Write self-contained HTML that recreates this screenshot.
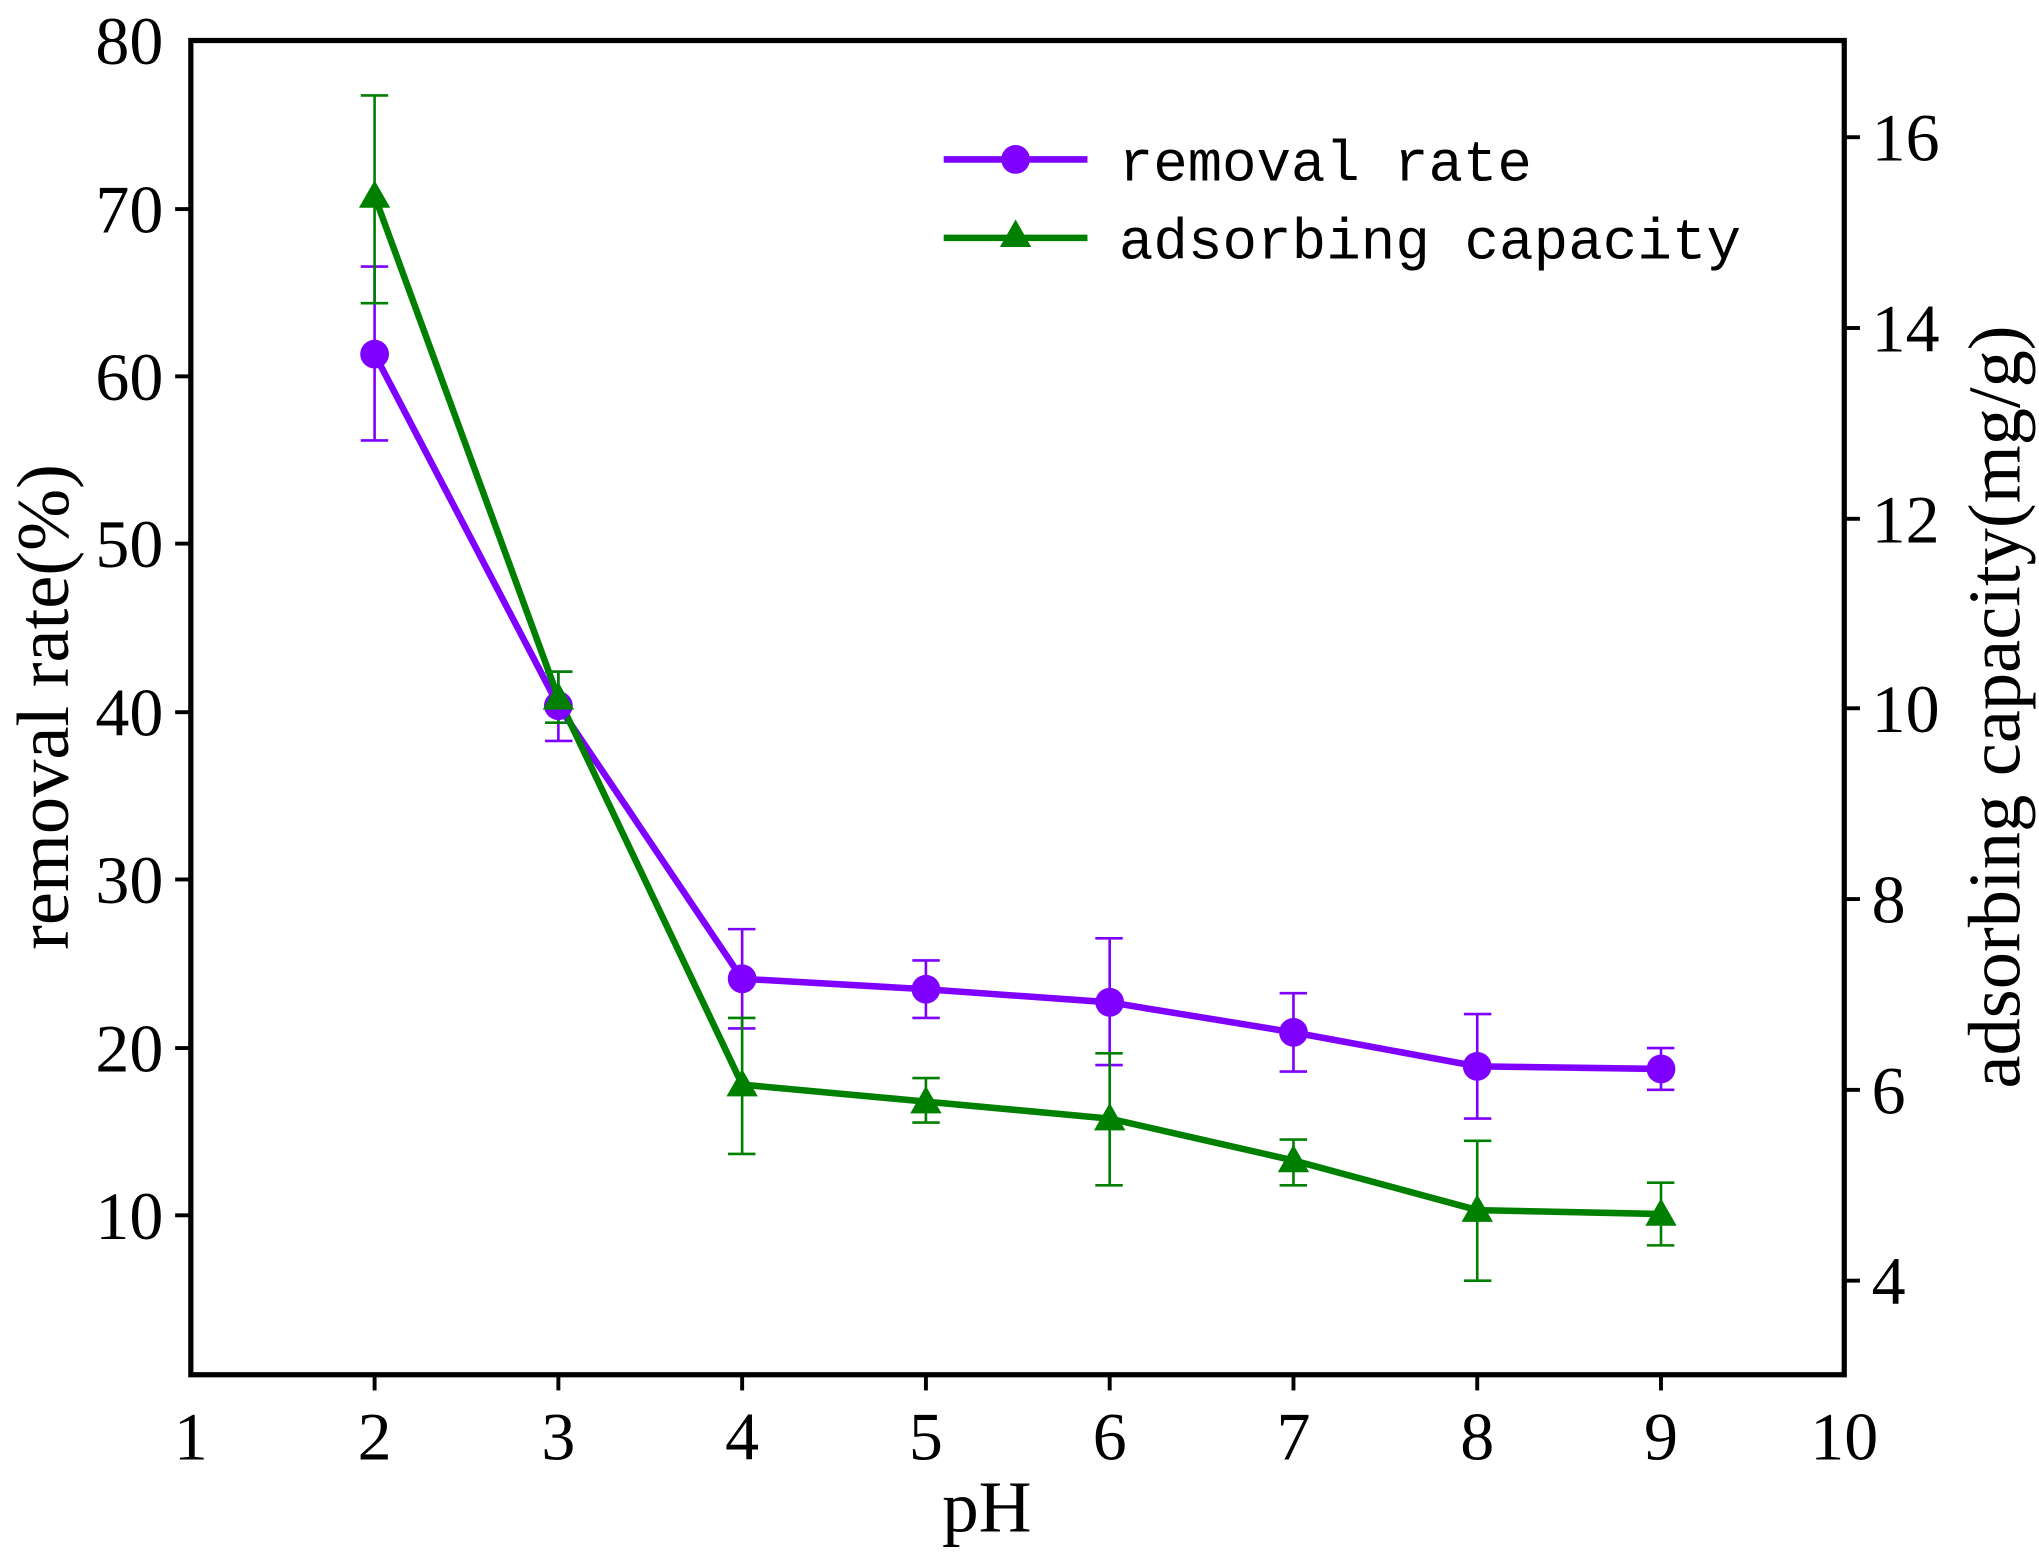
<!DOCTYPE html>
<html><head><meta charset="utf-8"><style>html,body{margin:0;padding:0;background:#fff}svg{display:block}</style></head><body>
<svg width="2039" height="1559" viewBox="0 0 1560 1193" preserveAspectRatio="none" xmlns="http://www.w3.org/2000/svg">
<g font-family="Liberation Serif, serif" font-size="52" fill="#000">
<rect x="146" y="31" width="1265" height="1021" fill="none" stroke="#000" stroke-width="4"/>
<g stroke="#000" stroke-width="3">
<line x1="286.6" y1="1052" x2="286.6" y2="1064"/><line x1="427.2" y1="1052" x2="427.2" y2="1064"/><line x1="567.8" y1="1052" x2="567.8" y2="1064"/><line x1="708.4" y1="1052" x2="708.4" y2="1064"/><line x1="849" y1="1052" x2="849" y2="1064"/><line x1="989.6" y1="1052" x2="989.6" y2="1064"/><line x1="1130.2" y1="1052" x2="1130.2" y2="1064"/><line x1="1270.8" y1="1052" x2="1270.8" y2="1064"/>
<line x1="134" y1="160" x2="146" y2="160"/><line x1="134" y1="288" x2="146" y2="288"/><line x1="134" y1="416" x2="146" y2="416"/><line x1="134" y1="545" x2="146" y2="545"/><line x1="134" y1="673" x2="146" y2="673"/><line x1="134" y1="802" x2="146" y2="802"/><line x1="134" y1="930" x2="146" y2="930"/>
<line x1="1411" y1="105" x2="1423" y2="105"/><line x1="1411" y1="251" x2="1423" y2="251"/><line x1="1411" y1="397" x2="1423" y2="397"/><line x1="1411" y1="542" x2="1423" y2="542"/><line x1="1411" y1="688" x2="1423" y2="688"/><line x1="1411" y1="834" x2="1423" y2="834"/><line x1="1411" y1="980" x2="1423" y2="980"/>
</g>
<g text-anchor="middle">
<text x="146" y="1117">1</text><text x="286.6" y="1117">2</text><text x="427.2" y="1117">3</text><text x="567.8" y="1117">4</text><text x="708.4" y="1117">5</text><text x="849" y="1117">6</text><text x="989.6" y="1117">7</text><text x="1130.2" y="1117">8</text><text x="1270.8" y="1117">9</text><text x="1411" y="1117">10</text>
<text x="755" y="1172" font-size="56">pH</text>
</g>
<g text-anchor="end">
<text x="125" y="49">80</text><text x="125" y="178">70</text><text x="125" y="306">60</text><text x="125" y="434">50</text><text x="125" y="563">40</text><text x="125" y="691">30</text><text x="125" y="820">20</text><text x="125" y="948">10</text>
</g>
<g text-anchor="start">
<text x="1432" y="123">16</text><text x="1432" y="269">14</text><text x="1432" y="415">12</text><text x="1432" y="560">10</text><text x="1432" y="706">8</text><text x="1432" y="852">6</text><text x="1432" y="998">4</text>
</g>
<text transform="translate(52,541) rotate(-90)" text-anchor="middle" font-size="57">removal rate(%)</text>
<text transform="translate(1545,541) rotate(-90)" text-anchor="middle" font-size="57">adsorbing capacity(mg/g)</text>
</g>
<g stroke="#8000ff" stroke-width="2" fill="none">
<path d="M286.6 204V337M276 204h21M276 337h21 M427.2 514V567M417 514h21M417 567h21 M567.8 711V787M557 711h21M557 787h21 M708.4 735V779M698 735h21M698 779h21 M849 718V815M838 718h21M838 815h21 M989.6 760V820M979 760h21M979 820h21 M1130.2 776V856M1120 776h21M1120 856h21 M1270.8 802V834M1260 802h21M1260 834h21"/>
</g>
<g stroke="#008000" stroke-width="2" fill="none">
<path d="M286.6 73V232M276 73h21M276 232h21 M427.2 514V553M417 514h21M417 553h21 M567.8 779V883M557 779h21M557 883h21 M708.4 825V859M698 825h21M698 859h21 M849 806V907M838 806h21M838 907h21 M989.6 872V907M979 872h21M979 907h21 M1130.2 873V980M1120 873h21M1120 980h21 M1270.8 905V953M1260 905h21M1260 953h21"/>
</g>
<polyline fill="none" stroke="#8000ff" stroke-width="5" points="286.6,271 427.2,540 567.8,749 708.4,757 849,767 989.6,790 1130.2,816 1270.8,818"/>
<polyline fill="none" stroke="#008000" stroke-width="5" points="286.6,150 427.2,534 567.8,830 708.4,843 849,856 989.6,888 1130.2,926 1270.8,929"/>
<g fill="#8000ff">
<circle cx="286.6" cy="271" r="11"/><circle cx="427.2" cy="540" r="11"/><circle cx="567.8" cy="749" r="11"/><circle cx="708.4" cy="757" r="11"/><circle cx="849" cy="767" r="11"/><circle cx="989.6" cy="790" r="11"/><circle cx="1130.2" cy="816" r="11"/><circle cx="1270.8" cy="818" r="11"/>
<circle cx="777" cy="122" r="11"/>
</g>
<g fill="#008000">
<path d="M286.6 138l12 21h-24z M427.2 522l12 21h-24z M567.8 818l12 21h-24z M708.4 831l12 21h-24z M849 844l12 21h-24z M989.6 876l12 21h-24z M1130.2 914l12 21h-24z M1270.8 917l12 21h-24z M777 168l12 21h-24z"/>
</g>
<line x1="722" y1="122" x2="832" y2="122" stroke="#8000ff" stroke-width="5"/>
<line x1="722" y1="182" x2="832" y2="182" stroke="#008000" stroke-width="5"/>
<g font-family="Liberation Mono, monospace" font-size="44" fill="#000">
<text x="856" y="138" textLength="316">removal rate</text>
<text x="856" y="198" textLength="476">adsorbing capacity</text>
</g>
</svg>
</body></html>
